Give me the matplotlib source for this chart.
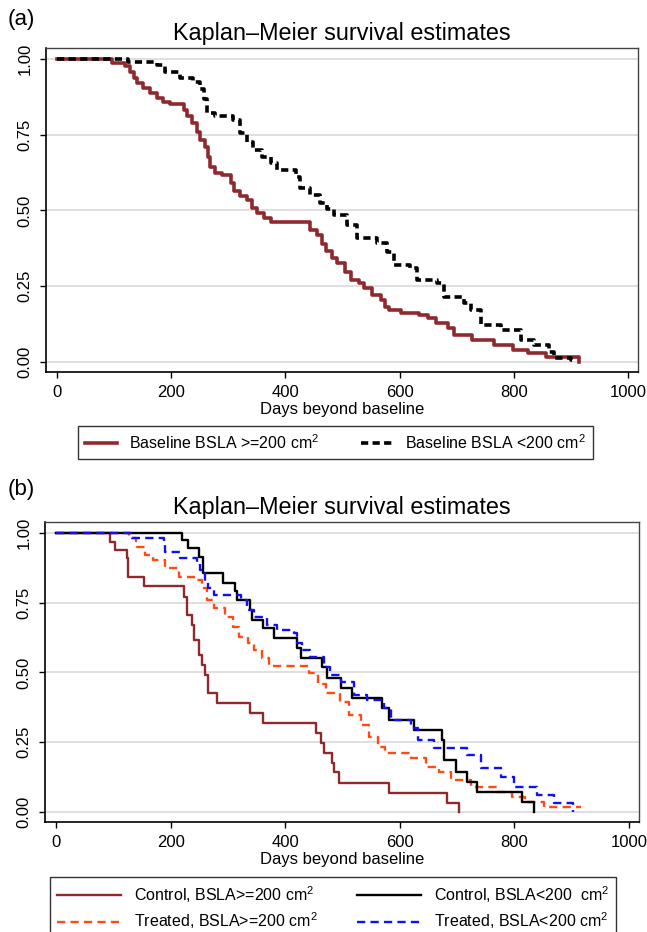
import numpy as np
import matplotlib
matplotlib.use("Agg")
import matplotlib.pyplot as plt
from matplotlib.lines import Line2D

plt.rcParams.update({"font.family": "Liberation Sans", "mathtext.fontset": "custom",
    "mathtext.rm": "Liberation Sans", "mathtext.it": "Liberation Sans",
    "mathtext.bf": "Liberation Sans", "font.size": 12})

# ---- panel (a): baseline BSLA groups ----
t_hi = [0, 96, 119, 128, 134, 140, 151, 163, 175, 186, 198, 222, 228, 236, 245, 251, 260, 265, 268, 277,
        289, 304, 310, 321, 333, 342, 351, 362, 374, 443, 456, 464, 471, 482, 491, 505, 514, 529, 537, 552,
        567, 575, 581, 602, 634, 649, 663, 684, 695, 727, 765, 798, 824, 856, 915]
s_hi = [1.0, .986, .975, .958, .936, .92, .903, .886, .87, .859, .851, .831, .81, .788, .76, .733, .71, .678, .645, .623,
        .617, .59, .565, .548, .535, .507, .491, .474, .463, .436, .419, .389, .366, .342, .326, .298, .271, .26, .243, .221,
        .205, .183, .172, .161, .155, .144, .128, .111, .089, .073, .056, .04, .029, .015, 0.0]
t_lo = [0, 125, 175, 189, 216, 239, 251, 257, 263, 277, 309, 321, 333, 344, 359, 374, 385, 418, 426, 443,
        461, 473, 485, 508, 526, 561, 578, 590, 619, 631, 666, 678, 713, 725, 742, 777, 812, 836, 862, 871,
        900, 905]
s_lo = [1.0, .99, .98, .958, .936, .925, .9, .867, .822, .81, .799, .755, .725, .7, .678, .656, .634, .612, .573, .55,
        .524, .506, .485, .452, .408, .392, .364, .32, .309, .271, .26, .216, .194, .172, .122, .106, .073, .056, .034, .012,
        .007, 0.0]

# ---- panel (b): treatment x BSLA ----
t_c_hi = [0, 94, 103, 124, 126, 153, 223, 228, 237, 240, 249, 255, 260, 266, 281, 339, 362, 453, 462, 467,
          482, 485, 494, 581, 683, 703]
s_c_hi = [1.0, .969, .939, .909, .843, .81, .772, .706, .67, .616, .563, .527, .491, .425, .39, .354, .317, .282, .246, .21,
          .174, .144, .103, .067, .031, 0.0]
t_c_lo = [0, 220, 231, 249, 257, 292, 313, 316, 339, 342, 362, 380, 421, 427, 465, 473, 497, 517, 569, 581,
          625, 674, 677, 698, 718, 735, 814, 834]
s_c_lo = [1.0, .975, .945, .915, .855, .82, .79, .76, .724, .688, .658, .622, .587, .551, .521, .479, .443, .407, .372, .33,
          .294, .258, .186, .144, .109, .073, .037, 0.0]
t_t_hi = [0, 128, 140, 155, 170, 190, 215, 240, 255, 263, 275, 295, 308, 320, 335, 345, 360, 372, 442, 458,
          472, 495, 512, 532, 546, 562, 575, 620, 645, 668, 690, 725, 770, 795, 818, 852, 916]
s_t_hi = [1.0, .981, .951, .921, .903, .873, .843, .832, .802, .76, .73, .70, .664, .628, .605, .581, .551, .524, .497, .458,
          .428, .395, .348, .312, .27, .234, .21, .192, .162, .144, .115, .091, .073, .055, .037, .019, .019]
t_t_lo = [0, 132, 188, 191, 217, 246, 252, 260, 266, 275, 322, 333, 345, 368, 386, 415, 421, 430, 444, 467,
          479, 497, 520, 543, 572, 584, 619, 631, 660, 718, 741, 776, 800, 840, 869, 902]
s_t_lo = [1.0, .981, .957, .933, .909, .891, .867, .825, .802, .778, .76, .724, .70, .67, .652, .64, .605, .581, .557, .521,
          .491, .467, .419, .401, .372, .33, .30, .258, .228, .204, .157, .127, .091, .061, .031, 0.0]

yticks = [0, 0.25, 0.5, 0.75, 1.0]
xticks = [0, 200, 400, 600, 800, 1000]
MAROON = "#8E2A2E"; ORANGE = "#FF4A14"; BLUE = "#1010F0"

W, H = 647, 932
fig = plt.figure(figsize=(W / 100, H / 100), dpi=100)

def frame(ax, ylim):
    ax.set_xlim(-19.3, 1017.5); ax.set_ylim(*ylim)
    ax.set_yticks(yticks); ax.set_yticklabels([f"{v:.2f}" for v in yticks], rotation=90, va="center")
    ax.set_xticks(xticks)
    for v in yticks:
        ax.axhline(v, color="#DCDCDC", lw=1.3, zorder=0)
    ax.tick_params(direction="out", length=4.5, width=1, labelsize=12, pad=5)
    for sp in ("left", "bottom"):
        ax.spines[sp].set_linewidth(1.2)
    for sp in ("top", "right"):
        ax.spines[sp].set_color("#444444"); ax.spines[sp].set_linewidth(1.0)
    ax.set_xlabel("Days beyond baseline", fontsize=12, labelpad=1)
    ax.set_title("Kaplan\u2013Meier survival estimates", fontsize=16.8, pad=6)

# panel (a)
ax1 = fig.add_axes([46 / W, 1 - 372 / H, 592 / W, 324 / H])
frame(ax1, (-0.033, 1.036))
ax1.step(t_lo, s_lo, where="post", color="black", lw=2.6, dashes=(2.0, 1.2), zorder=3)
ax1.step(t_hi, s_hi, where="post", color=MAROON, lw=2.6, zorder=2)
fig.text(8 / W, 1 - 20 / H, "(a)", fontsize=16, va="center")
h1 = [Line2D([], [], color=MAROON, lw=2.6), Line2D([], [], color="black", lw=2.6, dashes=(2.0, 1.2))]
leg1 = fig.legend(h1, ["Baseline BSLA >=200 cm$^{2}$", "Baseline BSLA <200 cm$^{2}$"], ncol=2,
                  loc="upper left", bbox_to_anchor=(78 / W, 1 - 426 / H), fontsize=11.5,
                  frameon=True, fancybox=False, edgecolor="black", handlelength=2.0,
                  columnspacing=2.6, borderpad=0.45, handletextpad=0.75, borderaxespad=0)
leg1.get_frame().set_linewidth(1.0)

# panel (b)
ax2 = fig.add_axes([45 / W, 1 - 822 / H, 594 / W, 300 / H])
frame(ax2, (-0.036, 1.039))
ax2.step(t_c_hi, s_c_hi, where="post", color=MAROON, lw=1.7, zorder=2)
ax2.step(t_t_hi, s_t_hi, where="post", color=ORANGE, lw=1.7, dashes=(3.5, 2.2), zorder=3)
ax2.step(t_c_lo, s_c_lo, where="post", color="black", lw=1.7, zorder=4)
ax2.step(t_t_lo, s_t_lo, where="post", color=BLUE, lw=1.7, dashes=(3.5, 2.2), zorder=5)
fig.text(8 / W, 1 - 490 / H, "(b)", fontsize=16, va="center")
h2 = [Line2D([], [], color=MAROON, lw=1.7), Line2D([], [], color=ORANGE, lw=1.7, dashes=(3.5, 2.2)),
      Line2D([], [], color="black", lw=1.7), Line2D([], [], color=BLUE, lw=1.7, dashes=(3.5, 2.2))]
lab2 = ["Control, BSLA>=200 cm$^{2}$", "Treated, BSLA>=200 cm$^{2}$",
        "Control, BSLA<200  cm$^{2}$", "Treated, BSLA<200 cm$^{2}$"]
leg2 = fig.legend(h2, lab2, ncol=2, loc="upper left", bbox_to_anchor=(50 / W, 1 - 877 / H), fontsize=11.5,
                  frameon=True, fancybox=False, edgecolor="black", handlelength=4.0,
                  columnspacing=2.45, borderpad=0.45, handletextpad=0.8, labelspacing=0.35,
                  borderaxespad=0)
leg2.get_frame().set_linewidth(1.0)

fig.savefig("out.png", dpi=100)
